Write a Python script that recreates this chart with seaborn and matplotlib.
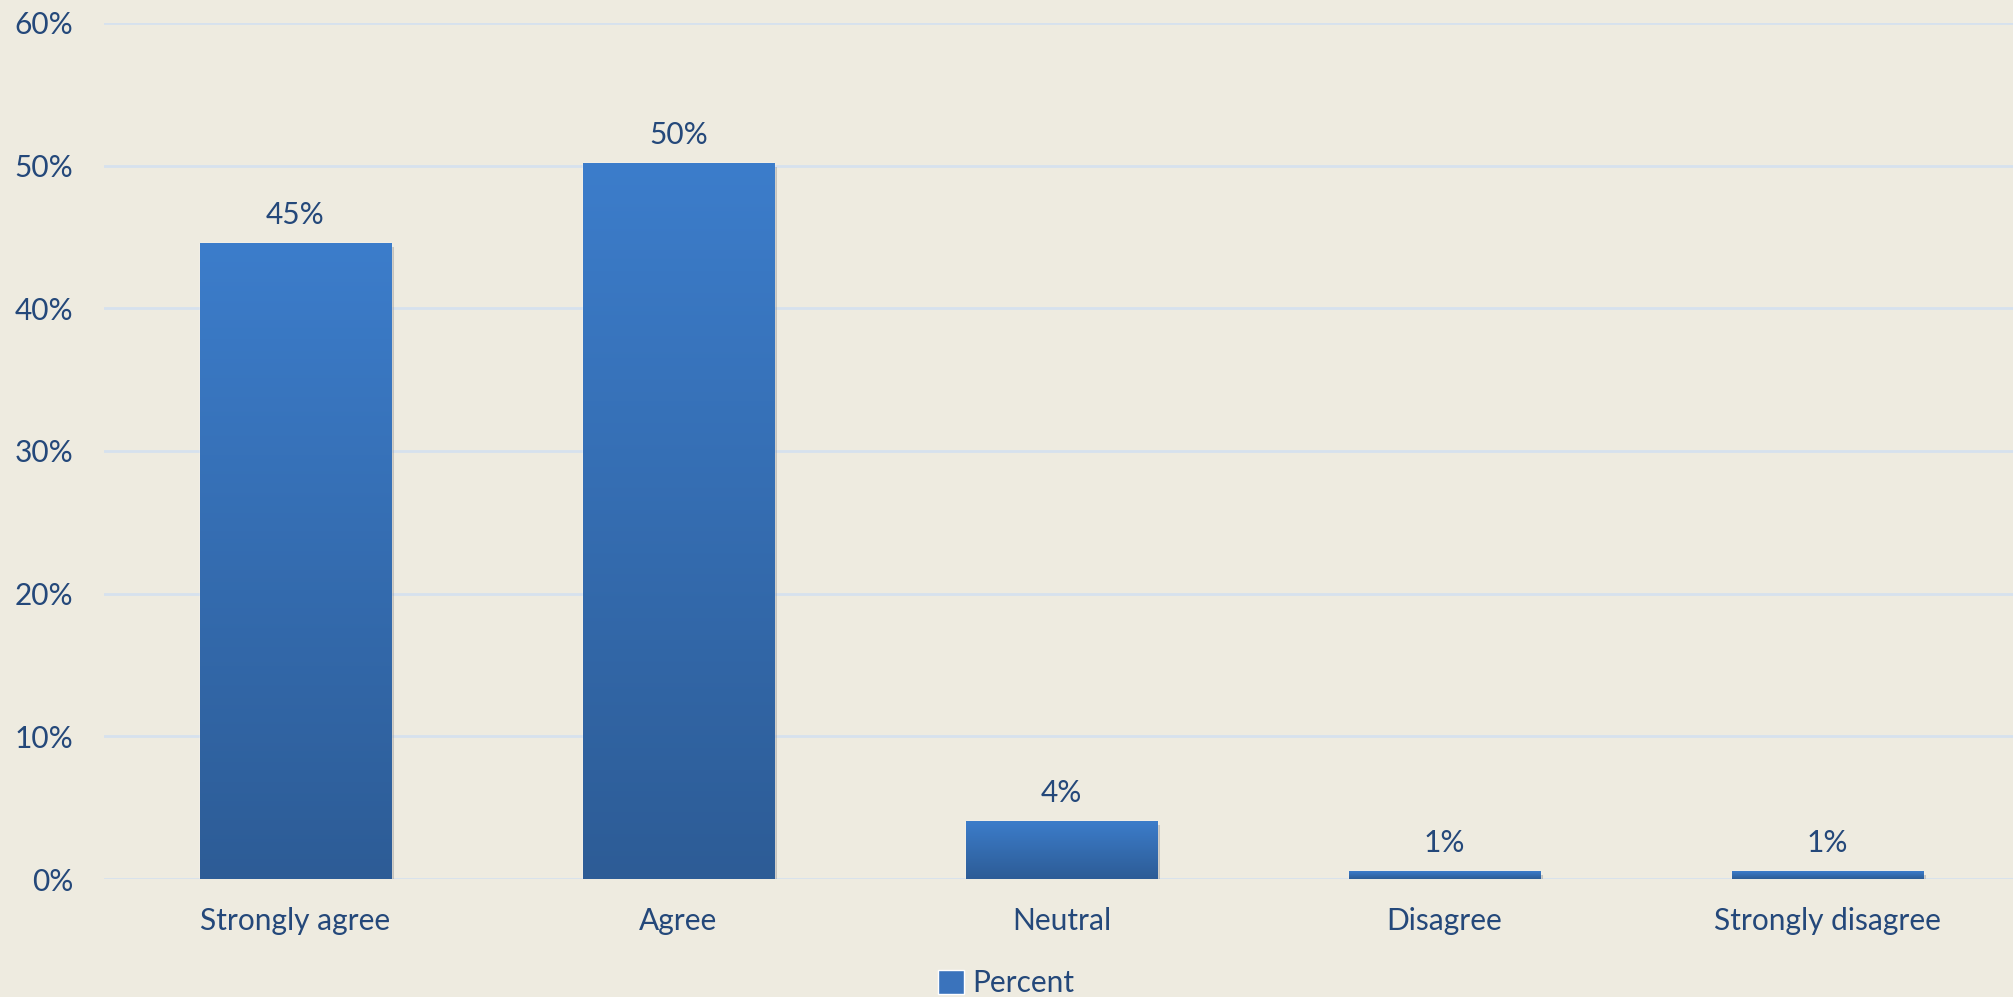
import numpy as np
import pandas as pd
import seaborn as sns
import matplotlib.pyplot as plt
from matplotlib.colors import LinearSegmentedColormap
from matplotlib.patches import Patch
from matplotlib.ticker import PercentFormatter
import matplotlib.patheffects as pe

# Dados
categorias = ['Strongly agree', 'Agree', 'Neutral', 'Disagree', 'Strongly disagree']
percentuais = [0.446, 0.502, 0.041, 0.0056, 0.0056]
rotulos = ['45%', '50%', '4%', '1%', '1%']

fundo = '#EEEBE0'
texto = '#24487A'
grade = '#D6E1EE'
tam = 21.5

sns.set_theme(style='white')
plt.rcParams['font.family'] = ['Lato', 'DejaVu Sans']

tabela = pd.DataFrame({'categoria': categorias, 'percentual': percentuais})

fig = plt.figure(figsize=(20.13, 9.97), dpi=100, facecolor=fundo)
ax = fig.add_axes([104 / 2013, (997 - 879) / 997, 1915 / 2013, (879 - 23) / 997])
ax.set_facecolor(fundo)

sns.barplot(data=tabela, x='categoria', y='percentual', color='#3A73BC',
            width=0.5, ax=ax, zorder=3)

# gradiente em cada barra
cmap = LinearSegmentedColormap.from_list('barra', ['#2D5C96', '#3C7DCB'])
grad = np.linspace(0, 1, 256).reshape(-1, 1)
for barra in ax.patches:
    x0, y0 = barra.get_x(), barra.get_y()
    x1, y1 = x0 + barra.get_width(), y0 + barra.get_height()
    barra.set_path_effects([pe.SimplePatchShadow(offset=(2, -3), shadow_rgbFace='#7a7a7a', alpha=0.35),
                            pe.Normal()])
    img = ax.imshow(grad, extent=[x0, x1, y0, y1], origin='lower', aspect='auto',
                    cmap=cmap, zorder=4)
    img.set_clip_path(barra)

for i, (v, r) in enumerate(zip(percentuais, rotulos)):
    ax.annotate(r, (i, v), xytext=(0, 10), textcoords='offset points',
                ha='center', va='bottom', fontsize=tam, color=texto)

ax.set_xlim(-0.5, 4.5)
ax.set_ylim(0, 0.6)
ax.set_yticks(np.arange(0, 0.61, 0.1))
ax.yaxis.set_major_formatter(PercentFormatter(1.0, decimals=0))
ax.yaxis.grid(True, color=grade, linewidth=2, zorder=0)
ax.set_axisbelow(True)
for s in ax.spines.values():
    s.set_visible(False)
ax.tick_params(axis='y', length=0, pad=22, labelsize=tam, labelcolor=texto)
ax.tick_params(axis='x', length=0, pad=20, labelsize=tam, labelcolor=texto)
ax.set_xlabel('')
ax.set_ylabel('')

fig.legend(handles=[Patch(facecolor='#3A73BC', label='Percent')], loc='center',
           bbox_to_anchor=(0.5, 1 - 983 / 997), frameon=False, fontsize=tam,
           labelcolor=texto, handlelength=0.85, handleheight=0.85, handletextpad=0.3)

fig.savefig('out.png', dpi=100, facecolor=fundo)
